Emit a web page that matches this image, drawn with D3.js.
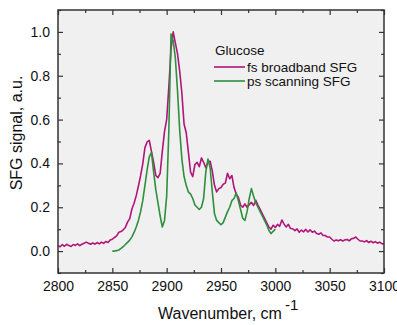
<!DOCTYPE html>
<html>
<head>
<meta charset="utf-8">
<script src="https://cdn.jsdelivr.net/npm/d3@7"></script>
<style>
  body { margin: 0; background: #fff; }
  text { font-family: "Liberation Sans", Arial, sans-serif; }
</style>
</head>
<body>
<div id="chart"></div>
<script>
// fs broadband SFG, 2800..3100 every 2 cm-1
var fsStart = 2800, fsStep = 2;
var fsValues = [
  0.025, 0.020, 0.030, 0.022, 0.031, 0.025, 0.021, 0.030, 0.026, 0.033,
  0.025, 0.031, 0.036, 0.041, 0.036, 0.031, 0.037, 0.032, 0.039, 0.033,
  0.041, 0.035, 0.044, 0.039, 0.051, 0.054, 0.062, 0.069, 0.086, 0.089,
  0.097, 0.108, 0.132, 0.148, 0.192, 0.218, 0.253, 0.297, 0.344, 0.398,
  0.472, 0.498, 0.505, 0.455, 0.405, 0.345, 0.335, 0.355, 0.455, 0.545,
  0.600, 0.750, 0.920, 1.000, 0.950, 0.900, 0.820, 0.720, 0.580, 0.540,
  0.450, 0.360, 0.340, 0.395, 0.405, 0.385, 0.425, 0.405, 0.380, 0.405,
  0.410, 0.365, 0.300, 0.270, 0.285, 0.290, 0.305, 0.310, 0.355, 0.330,
  0.345, 0.290, 0.260, 0.245, 0.210, 0.200, 0.215, 0.200, 0.212, 0.222,
  0.208, 0.232, 0.210, 0.190, 0.170, 0.150, 0.130, 0.110, 0.100, 0.118,
  0.108, 0.122, 0.113, 0.142, 0.123, 0.110, 0.122, 0.103, 0.102, 0.093,
  0.101, 0.086, 0.096, 0.088, 0.099, 0.087, 0.097, 0.086, 0.091, 0.080,
  0.077, 0.083, 0.071, 0.071, 0.064, 0.064, 0.054, 0.046, 0.051, 0.047,
  0.052, 0.046, 0.051, 0.053, 0.047, 0.056, 0.058, 0.064, 0.054, 0.046,
  0.046, 0.042, 0.048, 0.039, 0.045, 0.038, 0.043, 0.036, 0.041, 0.034,
  0.033
];

// ps scanning SFG, 2850..3000 every 2 cm-1
var psStart = 2850, psStep = 2;
var psValues = [
  0.000, 0.000, 0.002, 0.005, 0.012, 0.020, 0.030, 0.040, 0.050, 0.065,
  0.085, 0.110, 0.140, 0.180, 0.230, 0.300, 0.370, 0.430, 0.450, 0.360,
  0.280, 0.220, 0.160, 0.110, 0.140, 0.250, 0.550, 0.990, 0.960, 0.880,
  0.730, 0.550, 0.420, 0.340, 0.300, 0.270, 0.260, 0.240, 0.210, 0.200,
  0.190, 0.200, 0.240, 0.360, 0.420, 0.380, 0.270, 0.170, 0.140, 0.130,
  0.120, 0.130, 0.155, 0.180, 0.200, 0.230, 0.240, 0.265, 0.230, 0.190,
  0.150, 0.140, 0.180, 0.240, 0.285, 0.250, 0.220, 0.200, 0.180, 0.160,
  0.140, 0.120, 0.095, 0.080, 0.090, 0.100
];

var xMajor = [2800, 2850, 2900, 2950, 3000, 3050, 3100];
var yMajor = [0.0, 0.2, 0.4, 0.6, 0.8, 1.0];
var legendTitle = "Glucose";
var seriesNames = ["fs broadband SFG", "ps scanning SFG"];
var seriesColors = ["#b0157a", "#2e8f3c"];

var width = 397, height = 325;
var margin = { left: 58, top: 10, right: 13, bottom: 52 };
var w = width - margin.left - margin.right, h = height - margin.top - margin.bottom;

var svg = d3.select("#chart").append("svg").attr("width", width).attr("height", height);
var g = svg.append("g").attr("transform", "translate(" + margin.left + "," + margin.top + ")");

var x = d3.scaleLinear().domain([2800, 3100]).range([0, w]);
var y = d3.scaleLinear().domain([-0.1, 1.1]).range([h, 0]);

g.append("rect").attr("width", w).attr("height", h).attr("fill", "#f0f0f0");

function toPoints(start, step, vals) {
  return vals.map(function (v, i) { return [start + i * step, v]; });
}
var series = [toPoints(fsStart, fsStep, fsValues), toPoints(psStart, psStep, psValues)];

var line = d3.line().x(function (d) { return x(d[0]); }).y(function (d) { return y(d[1]); });

g.append("g")
  .selectAll("path").data(series).enter().append("path")
  .attr("d", line)
  .attr("fill", "none")
  .attr("stroke", function (d, i) { return seriesColors[i]; })
  .attr("stroke-width", 1.6)
  .attr("stroke-linejoin", "round");

// axes, ticks pointing inward
var xMinor = d3.range(2825, 3100, 50);
var yMinor = d3.range(-0.1, 1.11, 0.2).map(function (v) { return +v.toFixed(1); });

function styleAxis(sel) {
  sel.select(".domain").remove();
  sel.selectAll("line").attr("stroke", "#333").attr("stroke-width", 1.2);
  sel.selectAll("text").attr("font-size", 14).attr("fill", "#111");
}

g.append("g").attr("transform", "translate(0," + h + ")")
  .call(d3.axisBottom(x).tickValues(xMajor).tickSize(-5).tickPadding(8).tickFormat(d3.format("d")))
  .call(styleAxis);
g.append("g").attr("transform", "translate(0," + h + ")")
  .call(d3.axisBottom(x).tickValues(xMinor).tickSize(-3).tickFormat(""))
  .call(styleAxis);
g.append("g")
  .call(d3.axisTop(x).tickValues(xMajor).tickSize(-5).tickFormat(""))
  .call(styleAxis);
g.append("g")
  .call(d3.axisTop(x).tickValues(xMinor).tickSize(-3).tickFormat(""))
  .call(styleAxis);

g.append("g")
  .call(d3.axisLeft(y).tickValues(yMajor).tickSize(-5).tickPadding(8).tickFormat(d3.format(".1f")))
  .call(styleAxis);
g.append("g")
  .call(d3.axisLeft(y).tickValues(yMinor).tickSize(-3).tickFormat(""))
  .call(styleAxis);
g.append("g").attr("transform", "translate(" + w + ",0)")
  .call(d3.axisRight(y).tickValues(yMajor).tickSize(-5).tickFormat(""))
  .call(styleAxis);
g.append("g").attr("transform", "translate(" + w + ",0)")
  .call(d3.axisRight(y).tickValues(yMinor).tickSize(-3).tickFormat(""))
  .call(styleAxis);

g.append("rect").attr("width", w).attr("height", h)
  .attr("fill", "none").attr("stroke", "#333").attr("stroke-width", 1.5);

// legend
var legend = svg.append("g").attr("transform", "translate(214,0)");
legend.append("text").attr("x", 1).attr("y", 55).attr("font-size", 13.5).attr("fill", "#111").text(legendTitle);
seriesNames.forEach(function (name, i) {
  var yy = 67 + i * 14;
  legend.append("line").attr("x1", 0).attr("x2", 31).attr("y1", yy).attr("y2", yy)
    .attr("stroke", seriesColors[i]).attr("stroke-width", 1.6);
  legend.append("text").attr("x", 33).attr("y", yy + 4.5).attr("font-size", 13.5).attr("fill", "#111").text(name);
});

// axis titles
var xt = svg.append("text").attr("x", 158).attr("y", 319).attr("font-size", 16).attr("fill", "#111");
xt.append("tspan").text("Wavenumber, cm");
xt.append("tspan").attr("dx", 3).attr("dy", -9).attr("font-size", 15).text("-1");

svg.append("text").attr("transform", "translate(22,133) rotate(-90)")
  .attr("text-anchor", "middle").attr("font-size", 16).attr("fill", "#111")
  .text("SFG signal, a.u.");
</script>
</body>
</html>
